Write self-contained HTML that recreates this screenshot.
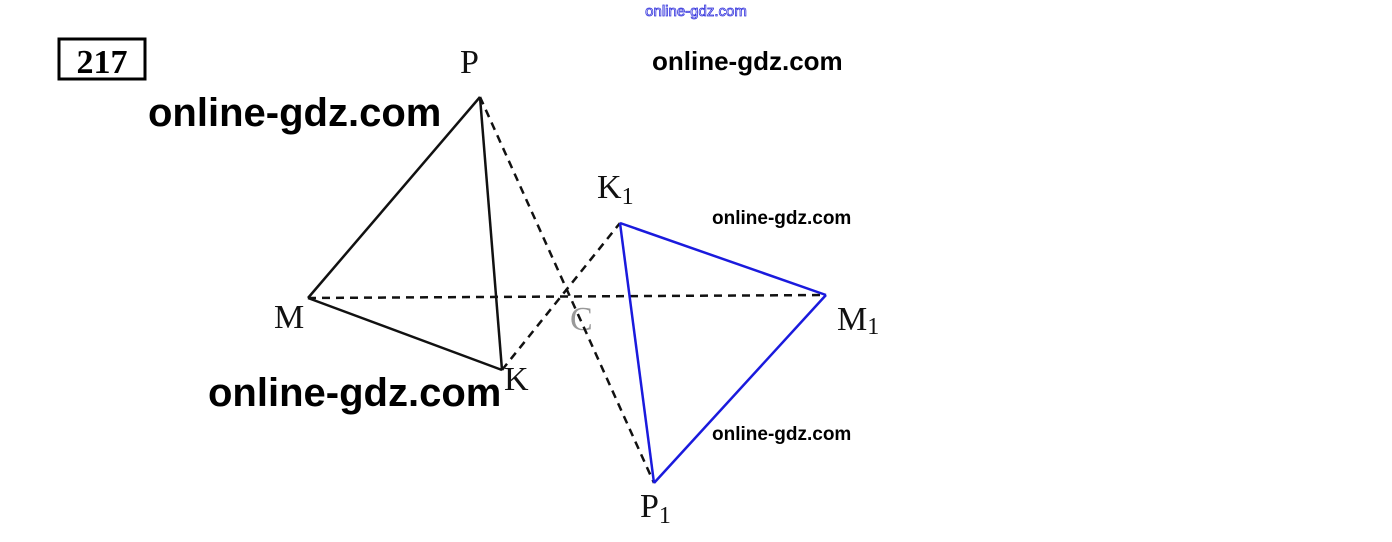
<!DOCTYPE html>
<html><head><meta charset="utf-8"><style>
html,body{margin:0;padding:0;background:#fff;}
</style></head><body>
<svg width="1392" height="542" xmlns="http://www.w3.org/2000/svg" style="display:block">
<rect width="1392" height="542" fill="#fff"/>
<text x="696" y="16" text-anchor="middle" font-family="Liberation Sans, sans-serif" font-size="15" fill="#fff" stroke="#3333dd" stroke-width="0.8">online-gdz.com</text>
<rect x="59" y="39" width="86" height="40" fill="none" stroke="#000" stroke-width="3"/>
<text x="102" y="73" text-anchor="middle" font-family="Liberation Serif, serif" font-weight="bold" font-size="34">217</text>
<g font-family="Liberation Serif, serif" font-size="34" fill="#111">
<text x="460" y="73">P</text>
<text x="274" y="328">M</text>
<text x="504" y="390">K</text>
<text x="570" y="330" fill="#999">C</text>
<text x="597" y="198">K<tspan font-size="24" dy="6">1</tspan></text>
<text x="837" y="330">M<tspan font-size="24" dy="4">1</tspan></text>
<text x="640" y="517">P<tspan font-size="24" dy="6">1</tspan></text>
</g>
<g stroke-width="2.5" fill="none">
<line x1="480" y1="97" x2="308" y2="298" stroke="#111"/>
<line x1="480" y1="97" x2="502" y2="370" stroke="#111"/>
<line x1="308" y1="298" x2="502" y2="370" stroke="#111"/>
<line x1="480" y1="97" x2="654" y2="483" stroke="#111" stroke-dasharray="8,6"/>
<line x1="502" y1="370" x2="620" y2="223" stroke="#111" stroke-dasharray="8,6"/>
<line x1="308" y1="298" x2="826" y2="295" stroke="#111" stroke-dasharray="8,6"/>
<line x1="620" y1="223" x2="826" y2="295" stroke="#1a1add"/>
<line x1="620" y1="223" x2="654" y2="483" stroke="#1a1add"/>
<line x1="826" y1="295" x2="654" y2="483" stroke="#1a1add"/>
</g>
<g font-family="Liberation Sans, sans-serif" font-weight="bold" fill="#000">
<text x="652" y="70" font-size="26">online-gdz.com</text>
<text x="148" y="126" font-size="40">online-gdz.com</text>
<text x="208" y="406" font-size="40">online-gdz.com</text>
<text x="712" y="224" font-size="19">online-gdz.com</text>
<text x="712" y="440" font-size="19">online-gdz.com</text>
</g>
</svg>
</body></html>
